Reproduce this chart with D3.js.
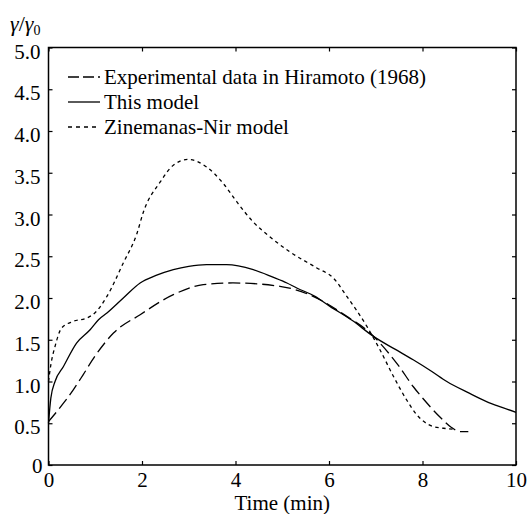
<!DOCTYPE html>
<html>
<head>
<meta charset="utf-8">
<script src="https://cdn.jsdelivr.net/npm/d3@7"></script>
<style>
  body { margin: 0; background: #fff; }
  text { font-family: "Liberation Serif", "Times New Roman", "DejaVu Serif", serif; fill: #000; }
</style>
</head>
<body>
<div class="chart-holder"></div>
<script>
// experimental data (Hiramoto 1968)
const expTime = [0, 0.32, 0.53, 0.74, 0.99, 1.39, 1.96, 2.67, 3.31, 3.95, 4.95, 5.66, 6.38, 6.88, 7.09, 7.5, 7.8, 8.02, 8.4, 8.62, 8.8, 8.98]
const expVal = [0.52, 0.74, 0.90, 1.08, 1.30, 1.58, 1.80, 2.04, 2.16, 2.18, 2.14, 2.02, 1.78, 1.58, 1.46, 1.18, 0.94, 0.79, 0.56, 0.45, 0.40, 0.40]

// this model
const modelTime = [0, 0.05, 0.14, 0.32, 0.6, 0.89, 1.07, 1.25, 1.6, 1.96, 2.3, 2.67, 3.0, 3.38, 3.81, 4.38, 4.8, 5.1, 5.31, 5.7, 6.02, 6.5, 6.95, 7.4, 7.8, 8.2, 8.52, 9.0, 9.37, 9.7, 10]
const modelVal = [0.5, 0.8, 1.0, 1.18, 1.46, 1.62, 1.74, 1.82, 2.0, 2.18, 2.27, 2.34, 2.38, 2.40, 2.40, 2.34, 2.25, 2.18, 2.12, 2.02, 1.90, 1.73, 1.54, 1.39, 1.26, 1.12, 1.0, 0.86, 0.76, 0.69, 0.63]

// Zinemanas-Nir model
const znTime = [0, 0.05, 0.14, 0.28, 0.53, 0.82, 0.99, 1.25, 1.6, 1.89, 2.03, 2.39, 2.67, 2.99, 3.38, 3.74, 4.03, 4.38, 4.74, 5.17, 5.74, 6.09, 6.38, 6.81, 7.09, 7.38, 7.66, 7.88, 8.23, 8.45, 8.66]
const znVal = [1.0, 1.2, 1.42, 1.64, 1.72, 1.76, 1.82, 2.02, 2.42, 2.77, 3.03, 3.39, 3.59, 3.66, 3.57, 3.37, 3.15, 2.91, 2.73, 2.55, 2.36, 2.24, 2.02, 1.66, 1.38, 1.06, 0.78, 0.60, 0.46, 0.44, 0.43]

const xTicks = [0, 2, 4, 6, 8, 10]
const yTicks = [0, 0.5, 1.0, 1.5, 2.0, 2.5, 3.0, 3.5, 4.0, 4.5, 5.0]
const legendLabels = ["Experimental data in Hiramoto (1968)", "This model", "Zinemanas-Nir model"]

const width = 528
const height = 514
const mLeft = 48.5, mRight = 516, mTop = 47.5, mBottom = 465
const fontSize = '21px'

const svg = d3.select('.chart-holder').append('svg').attr('width', width).attr('height', height)

const x = d3.scaleLinear().domain([0, 10]).range([mLeft, mRight])
const y = d3.scaleLinear().domain([0, 5]).range([mBottom, mTop])

// ticks (inward) on all four sides
const fmtY = d => d === 0 ? "0" : d3.format(".1f")(d)

const xAxis = svg.append('g').attr('transform', `translate(0,${mBottom})`)
  .call(d3.axisBottom(x).tickValues(xTicks).tickSizeInner(-4).tickSizeOuter(0).tickPadding(7))
xAxis.selectAll('text').style('font-size', fontSize).attr('font-family', null)

const yAxis = svg.append('g').attr('transform', `translate(${mLeft},0)`)
  .call(d3.axisLeft(y).tickValues(yTicks).tickFormat(fmtY).tickSizeInner(-4).tickSizeOuter(0).tickPadding(8))
yAxis.selectAll('text').style('font-size', fontSize).attr('font-family', null).attr('dy', '0.5em')
yAxis.selectAll('text').filter(d => d === 0).attr('dy', '0.35em').attr('x', -6)

svg.append('g').attr('transform', `translate(0,${mTop})`)
  .call(d3.axisTop(x).tickValues(xTicks).tickSizeInner(-4).tickSizeOuter(0).tickFormat(''))
svg.append('g').attr('transform', `translate(${mRight},0)`)
  .call(d3.axisRight(y).tickValues(yTicks).tickSizeInner(-4).tickSizeOuter(0).tickFormat(''))

svg.selectAll('.domain').remove()
svg.selectAll('.tick line').attr('stroke', '#000').attr('stroke-width', 1.2)

svg.append('rect')
  .attr('x', mLeft).attr('y', mTop)
  .attr('width', mRight - mLeft).attr('height', mBottom - mTop)
  .attr('fill', 'none').attr('stroke', '#000').attr('stroke-width', 1.5)

// curves
const line = d3.line().x(d => x(d[0])).y(d => y(d[1])).curve(d3.curveMonotoneX)

const series = [
  { t: expTime, v: expVal, dash: '12,5', w: 1.3 },
  { t: modelTime, v: modelVal, dash: null, w: 1.3 },
  { t: znTime, v: znVal, dash: '3.5,3.5', w: 1.3 }
]

svg.append('g').selectAll('path')
  .data(series)
  .enter()
  .append('path')
  .attr('d', s => line(s.t.map((t, i) => [t, s.v[i]])))
  .attr('fill', 'none')
  .attr('stroke', '#000')
  .attr('stroke-width', s => s.w)
  .attr('stroke-dasharray', s => s.dash)

// legend
const legendDash = ['11,4', null, '4,4']
const legendG = svg.append('g').selectAll('g')
  .data(legendLabels)
  .enter()
  .append('g')
  .attr('transform', (d, i) => `translate(68,${77 + i * 25})`)

legendG.append('line')
  .attr('x1', 0).attr('x2', 32).attr('y1', 0).attr('y2', 0)
  .attr('stroke', '#000').attr('stroke-width', 1.3)
  .attr('stroke-dasharray', (d, i) => legendDash[i])

legendG.append('text')
  .attr('x', 36).attr('y', 7)
  .style('font-size', fontSize)
  .text(d => d)

// axis titles
const yLabel = svg.append('text').attr('x', 10).attr('y', 31).style('font-size', '22px')
yLabel.append('tspan').attr('font-style', 'italic').text('γ')
yLabel.append('tspan').text('/')
yLabel.append('tspan').attr('font-style', 'italic').text('γ')
yLabel.append('tspan').attr('dy', 4).style('font-size', '14px').text('0')

svg.append('text')
  .attr('x', (mLeft + mRight) / 2).attr('y', 510)
  .attr('text-anchor', 'middle')
  .style('font-size', fontSize)
  .text('Time (min)')
</script>
</body>
</html>
